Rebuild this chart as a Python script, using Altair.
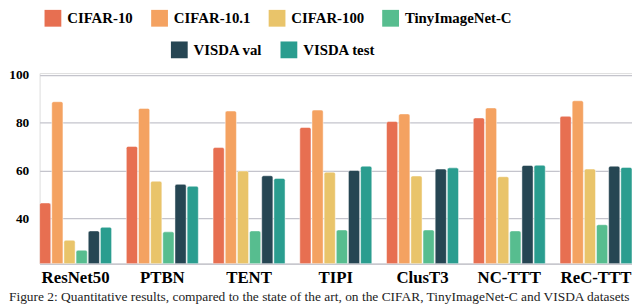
import altair as alt
import pandas as pd

methods = ["ResNet50", "PTBN", "TENT", "TIPI", "ClusT3", "NC-TTT", "ReC-TTT"]
series = ["CIFAR-10", "CIFAR-10.1", "CIFAR-100", "TinyImageNet-C", "VISDA val", "VISDA test"]
cifar10 = [46.4, 70.1, 69.6, 78.0, 80.5, 82.0, 82.7]
cifar10_1 = [88.8, 86.0, 84.9, 85.3, 83.7, 86.2, 89.2]
cifar100 = [30.8, 55.5, 59.8, 59.3, 57.7, 57.4, 60.6]
tiny = [26.6, 34.3, 34.7, 35.1, 35.1, 34.7, 37.3]
visda_val = [34.7, 54.2, 57.8, 60.0, 60.6, 62.1, 61.8]
visda_test = [36.2, 53.4, 56.7, 61.8, 61.1, 62.2, 61.3]
colors = ["#e76f51", "#f4a261", "#e9c46a", "#57bd8f", "#264653", "#2a9d8f"]
y_ticks = [40, 60, 80, 100]
caption_text = ("Figure 2: Quantitative results, compared to the state of the art, "
                "on the CIFAR, TinyImageNet-C and VISDA datasets")

rows = []
for s, vals in zip(series, [cifar10, cifar10_1, cifar100, tiny, visda_val, visda_test]):
    for m, v in zip(methods, vals):
        rows.append({"method": m, "dataset": s, "acc": v})
df = pd.DataFrame(rows)

FONT = "Liberation Serif"
Y_MIN = 21

x_enc = alt.X("method:N", sort=methods,
              scale=alt.Scale(paddingInner=0.17, paddingOuter=0),
              axis=alt.Axis(title=None, labelAngle=0, labelFont=FONT, labelFontWeight="bold",
                            labelFontSize=17, labelColor="black", ticks=False,
                            domainColor="#bcbcc4", domainWidth=1.5, labelPadding=6))
xoff = alt.XOffset("dataset:N", sort=series,
                   scale=alt.Scale(domain=series, paddingInner=0.08, paddingOuter=0))
y_enc = alt.Y("acc:Q", scale=alt.Scale(domain=[Y_MIN, 100.8], nice=False, zero=False),
              axis=alt.Axis(title=None, values=y_ticks, labelFont=FONT, labelFontWeight="bold",
                            labelFontSize=13.5, labelColor="black", ticks=False, domain=False,
                            grid=True, gridColor="#c4c4cc", gridWidth=1.2, labelPadding=11))
y2_enc = alt.Y2(datum=Y_MIN)

legend_common = dict(title=None, orient="none", direction="horizontal",
                     symbolType="square", symbolSize=289, symbolStrokeWidth=0,
                     labelFont=FONT, labelFontSize=15, labelFontWeight="bold",
                     labelColor="black", columnPadding=18, labelOffset=6, labelLimit=300)

bar_kw = dict(cornerRadiusTopLeft=2, cornerRadiusTopRight=2, stroke="white",
              strokeWidth=0.8, strokeOpacity=0.6, clip=True)

bars1 = alt.Chart(df).transform_filter(
    alt.FieldOneOfPredicate(field="dataset", oneOf=series[:4])
).mark_bar(**bar_kw).encode(
    x=x_enc, xOffset=xoff, y=y_enc, y2=y2_enc,
    color=alt.Color("dataset:N", sort=series[:4],
                    scale=alt.Scale(domain=series[:4], range=colors[:4]),
                    legend=alt.Legend(legendX=5, legendY=-64, **legend_common)),
)

bars2 = alt.Chart(df).transform_filter(
    alt.FieldOneOfPredicate(field="dataset", oneOf=series[4:])
).mark_bar(**bar_kw).encode(
    x=x_enc, xOffset=xoff, y=y_enc, y2=y2_enc,
    fill=alt.Fill("dataset:N", sort=series[4:],
                  scale=alt.Scale(domain=series[4:], range=colors[4:]),
                  legend=alt.Legend(legendX=133, legendY=-32, **legend_common)),
)

caption = alt.Chart(pd.DataFrame({"t": [caption_text]})).mark_text(
    font=FONT, fontSize=13.6, align="left", baseline="alphabetic", color="#222222"
).encode(x=alt.value(-31), y=alt.value(231), text="t:N")

chart = alt.layer(bars1, bars2, caption).properties(
    width=600, height=193,
    autosize=alt.AutoSizeParams(type="none"),
    padding={"left": 32, "top": 64, "right": 0, "bottom": 40},
).resolve_scale(color="independent", fill="independent").configure_view(
    fill="#eaeaf2", strokeWidth=0
).configure(background="white")

chart.save("out.html", embed_options={"renderer": "svg", "actions": False})
